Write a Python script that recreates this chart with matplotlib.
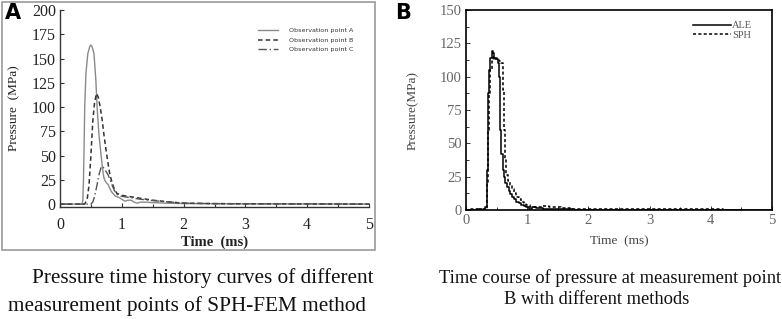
import matplotlib
matplotlib.use("Agg")
import matplotlib.pyplot as plt
from matplotlib.patches import Rectangle

W, H = 782, 319

# ---------------- data: panel A ----------------
tA = [0, 0.36, 0.37, 0.38, 0.39, 0.40, 0.42, 0.45, 0.48, 0.50, 0.52, 0.55, 0.58,
      0.60, 0.63, 0.665, 0.69, 0.71, 0.73, 0.75, 0.78, 0.80, 0.83, 0.87, 0.90, 0.95,
      1.00, 1.05, 1.10, 1.15, 1.20, 1.25, 1.30, 1.40, 1.50, 1.70, 2.00, 2.50, 3.00, 5.00]
pA = [0, 0, 5, 25, 60, 100, 135, 155, 162, 164, 162, 155, 128,
      100, 72, 50, 36, 27, 24, 22, 20, 17, 13, 10, 8, 7,
      5, 3, 4, 4, 2, 1, 2, 2, 1.5, 1, 0.5, 0.3, 0.2, 0]

tB = [0, 0.40, 0.44, 0.47, 0.50, 0.53, 0.56, 0.59, 0.62, 0.65, 0.68, 0.71, 0.74,
      0.77, 0.80, 0.83, 0.87, 0.92, 1.00, 1.10, 1.20, 1.30, 1.40, 1.50, 1.65,
      1.80, 2.00, 2.50, 3.00, 5.00]
pB = [0, 0, 5, 20, 50, 85, 105, 114, 110, 100, 88, 72, 58,
      45, 33, 25, 17, 11, 9, 8, 7, 6, 5, 4, 3,
      2, 1, 0.5, 0.3, 0]

tC = [0, 0.50, 0.53, 0.56, 0.60, 0.63, 0.66, 0.68, 0.70, 0.72, 0.75, 0.78,
      0.81, 0.84, 0.88, 0.92, 1.00, 1.10, 1.20, 1.30, 1.45, 1.60, 1.80, 2.00,
      2.50, 3.00, 5.00]
pC = [0, 0, 2, 8, 20, 30, 37, 39, 38, 36, 33, 30,
      25, 20, 14, 10, 8, 7, 6, 5, 4, 3, 2, 1,
      0.5, 0.3, 0]

legendA = ["Observation point A", "Observation point B", "Observation point C"]
xticksA = [0, 1, 2, 3, 4, 5]
yticksA = [0, 25, 50, 75, 100, 125, 150, 175, 200]

# ---------------- data: panel B ----------------
tALE = [0, 0.15, 0.20, 0.25, 0.30, 0.33, 0.35, 0.37, 0.39, 0.41, 0.43, 0.45, 0.47,
        0.49, 0.51, 0.53, 0.55, 0.57, 0.59, 0.61, 0.63, 0.65, 0.68, 0.71, 0.74,
        0.77, 0.80, 0.84, 0.88, 0.92, 0.96, 1.00, 1.05, 1.10, 1.20, 1.30, 1.50,
        2.00, 5.00]
pALE = [0, 0, 0.5, 0, 0.5, 2, 30, 88, 105, 114, 119, 118, 114,
        113, 113, 110, 100, 60, 42, 30, 25, 20, 17, 14, 12,
        10, 8, 6, 5, 4, 3, 2, 1, 2, 1.5, 1, 0.5,
        0.2, 0]

tSPH = [0, 0.15, 0.20, 0.25, 0.30, 0.33, 0.35, 0.37, 0.39, 0.41, 0.43, 0.45, 0.47,
        0.49, 0.51, 0.53, 0.55, 0.57, 0.59, 0.61, 0.63, 0.65, 0.67, 0.70, 0.73,
        0.76, 0.80, 0.84, 0.88, 0.92, 0.96, 1.00, 1.10, 1.20, 1.30, 1.40, 1.50,
        1.60, 1.80, 2.00, 2.50, 3.00, 3.50, 4.00, 4.40]
pSPH = [0, 0.5, 0, 0.5, 0, 1, 20, 60, 88, 105, 113, 115, 114,
        114, 113, 113, 112, 112, 110, 90, 60, 38, 26, 22, 19,
        16, 13, 10, 8, 6, 5, 4, 2, 2.5, 3, 2.5, 2, 1.5,
        1, 0.8, 0.6, 0.5, 0.4, 0.4, 0.3]

legendB = ["ALE", "SPH"]
xticksB = [0, 1, 2, 3, 4, 5]
yticksB = [0, 25, 50, 75, 100, 125, 150]

captionA = ["Pressure time history curves of different",
            "measurement points of SPH-FEM method"]
captionB = ["Time course of pressure at measurement point",
            "B with different methods"]

SERIF = ["Liberation Serif", "DejaVu Serif"]

fig = plt.figure(figsize=(W / 100, H / 100), dpi=100)


def fx(px):
    return px / W


def fy(py):
    return 1 - py / H


# panel A frame box
fig.patches.append(Rectangle((fx(2), fy(250)), fx(375) - fx(2), fy(2) - fy(250),
                             transform=fig.transFigure, fill=False,
                             edgecolor="#9a9a9a", linewidth=1.2))

# ---------------- Panel A ----------------
axA = fig.add_axes([fx(60), fy(207), fx(369) - fx(60), fy(10) - fy(207)])
axA.plot(tA, pA, color="#8a8a8a", lw=1.0, ls="-", label=legendA[0])
axA.plot(tB, pB, color="#333333", lw=1.1, ls=(0, (3, 2)), label=legendA[1])
axA.plot(tC, pC, color="#555555", lw=1.0, ls=(0, (6, 2, 1, 2)), label=legendA[2])
axA.set_xlim(0, 5)
axA.set_ylim(-3, 200)
axA.set_xticks(xticksA)
axA.set_yticks(yticksA)
axA.set_xticks([0.5, 1.5, 2.5, 3.5, 4.5], minor=True)
axA.spines["top"].set_visible(False)
axA.spines["right"].set_visible(False)
for s in ["left", "bottom"]:
    axA.spines[s].set_color("#333333")
    axA.spines[s].set_linewidth(1.0)
axA.tick_params(direction="in", length=3, width=0.8, colors="#333333", labelsize=11.5,
                pad=3)
axA.tick_params(axis="x", pad=7)
axA.tick_params(which="minor", direction="in", length=2, width=0.8, colors="#333333")
for lab in axA.get_xticklabels() + axA.get_yticklabels():
    lab.set_family(SERIF)
    lab.set_color("#222222")
axA.set_xlabel("Time  (ms)", family=SERIF, fontsize=10.5, fontweight="bold",
               color="#222222", labelpad=2)
axA.set_ylabel("Pressure  (MPa)", family=SERIF, fontsize=9.5, color="#222222",
               labelpad=8)
wA = fx(369) - fx(60)
legA = axA.legend(loc="upper left",
                  bbox_to_anchor=((fx(258) - fx(60)) / wA, 1 - (28 - 10) / 197),
                  frameon=False, borderpad=0, borderaxespad=0,
                  handlelength=3.2, handletextpad=1.6, labelspacing=0.6,
                  prop={"family": "DejaVu Sans", "size": 4.6})
for t in legA.get_texts():
    t.set_color("#333333")

fig.text(fx(5), fy(13), "A", fontsize=15, fontweight="bold", family="DejaVu Sans",
         ha="left", va="center")

# ---------------- Panel B ----------------
axB = fig.add_axes([fx(466), fy(210), fx(772) - fx(466), fy(10) - fy(210)])
axB.plot(tALE, pALE, color="black", lw=1.1, ls="-", drawstyle="steps-mid",
         label=legendB[0])
axB.plot(tSPH, pSPH, color="black", lw=1.1, ls=(0, (2, 1.5)), drawstyle="steps-mid",
         label=legendB[1])
axB.set_xlim(0, 5)
axB.set_ylim(0, 150)
axB.set_xticks(xticksB)
axB.set_yticks(yticksB)
axB.set_xticks([0.5, 1.5, 2.5, 3.5, 4.5], minor=True)
axB.set_yticks([12.5, 37.5, 62.5, 87.5, 112.5, 137.5], minor=True)
for s in axB.spines.values():
    s.set_color("black")
    s.set_linewidth(1.2)
axB.tick_params(direction="in", length=3, width=0.7, colors="#333333", labelsize=10.5,
                pad=3, labelcolor="#666666")
axB.tick_params(which="minor", direction="in", length=2, width=0.7, colors="#333333")
for lab in axB.get_xticklabels() + axB.get_yticklabels():
    lab.set_family(SERIF)
axB.set_xlabel("Time  (ms)", family=SERIF, fontsize=9.5, color="#444444", labelpad=6)
axB.set_ylabel("Pressure(MPa)", family=SERIF, fontsize=9.5, color="#444444",
               labelpad=15)
legB = axB.legend(loc="upper right",
                  bbox_to_anchor=((752 - 466) / 306, 1 - (21 - 10) / 200),
                  frameon=False, borderpad=0, borderaxespad=0,
                  handlelength=3.6, handletextpad=0.1, labelspacing=0.05,
                  prop={"family": SERIF, "size": 7.5})
for t in legB.get_texts():
    t.set_color("#555555")

fig.text(fx(395), fy(13), "B", fontsize=15, fontweight="bold", family="DejaVu Sans",
         ha="left", va="center")

# ---------------- captions ----------------
fig.text(fx(32), fy(278), captionA[0], family=SERIF, fontsize=15.3, ha="left",
         va="center", color="#111111")
fig.text(fx(8), fy(306), captionA[1], family=SERIF, fontsize=15.3, ha="left",
         va="center", color="#111111")
fig.text(fx(610), fy(278), captionB[0], family=SERIF, fontsize=13.3, ha="center",
         va="center", color="#111111")
fig.text(fx(597), fy(299), captionB[1], family=SERIF, fontsize=13.3, ha="center",
         va="center", color="#111111")

fig.savefig("out.png", dpi=100)
